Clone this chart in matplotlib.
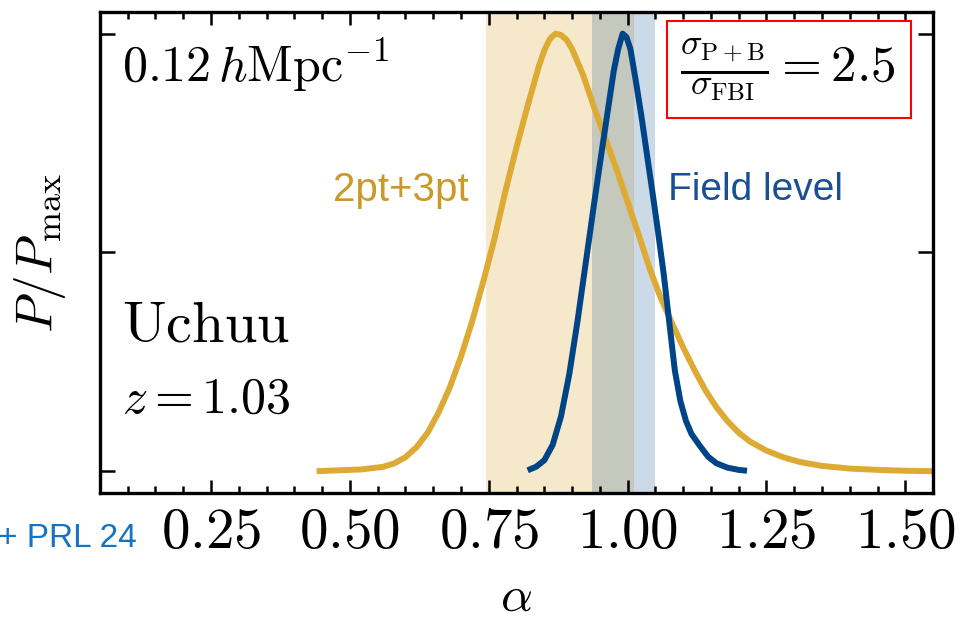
import matplotlib
matplotlib.use("Agg")
import matplotlib.pyplot as plt
from matplotlib.ticker import MultipleLocator, FuncFormatter
from matplotlib.patches import Rectangle

plt.rcParams['mathtext.fontset'] = 'cm'
plt.rcParams['font.family'] = ['DejaVu Serif']

# 2pt+3pt posterior
alpha_pb = [0.44, 0.48, 0.52, 0.56, 0.58, 0.60, 0.62, 0.64, 0.66, 0.68,
            0.70, 0.72, 0.74, 0.76, 0.78, 0.80, 0.82, 0.84, 0.85, 0.86,
            0.87, 0.88, 0.89, 0.90, 0.92, 0.94, 0.96, 0.98, 1.00, 1.02,
            1.04, 1.06, 1.08, 1.10, 1.12, 1.14, 1.16, 1.18, 1.20, 1.22,
            1.25, 1.28, 1.31, 1.35, 1.40, 1.45, 1.50, 1.55]
post_pb = [0.000, 0.002, 0.004, 0.010, 0.018, 0.032, 0.055, 0.088, 0.135, 0.192,
           0.262, 0.342, 0.433, 0.530, 0.640, 0.741, 0.835, 0.925, 0.962, 0.988,
           1.000, 0.997, 0.986, 0.965, 0.905, 0.830, 0.760, 0.690, 0.615, 0.540,
           0.462, 0.395, 0.338, 0.283, 0.232, 0.185, 0.146, 0.114, 0.088, 0.068,
           0.047, 0.032, 0.021, 0.012, 0.006, 0.003, 0.001, 0.000]

# field-level posterior
alpha_fl = [0.820, 0.835, 0.850, 0.865, 0.880, 0.895, 0.910, 0.925, 0.940, 0.955,
            0.965, 0.975, 0.983, 0.991, 0.998, 1.005, 1.015, 1.025, 1.035, 1.045,
            1.055, 1.065, 1.075, 1.085, 1.095, 1.105, 1.115, 1.130, 1.145, 1.160,
            1.180, 1.200, 1.215]
post_fl = [0.002, 0.010, 0.025, 0.060, 0.125, 0.222, 0.345, 0.480, 0.615, 0.745,
           0.830, 0.915, 0.965, 1.000, 0.992, 0.965, 0.890, 0.810, 0.722, 0.635,
           0.545, 0.450, 0.340, 0.230, 0.160, 0.115, 0.085, 0.058, 0.033, 0.018,
           0.008, 0.003, 0.001]

# 1-sigma bands
band_pb = (0.745, 1.012)
band_fl = (0.936, 1.050)

yellow = '#DDAA33'
blue = '#004488'

fig = plt.figure(figsize=(9.61, 6.21), dpi=100)
ax = fig.add_axes([0.104, 0.206, 0.867, 0.775])

ax.axvspan(*band_pb, color=yellow, alpha=0.25, lw=0, zorder=0)
ax.axvspan(*band_fl, color=blue, alpha=0.2, lw=0, zorder=0)
ax.plot(alpha_pb, post_pb, color=yellow, lw=4.3, solid_capstyle='butt',
        solid_joinstyle='round', zorder=2)
ax.plot(alpha_fl, post_fl, color=blue, lw=4.3, solid_capstyle='butt',
        solid_joinstyle='round', zorder=3)

ax.set_xlim(0.05, 1.55)
ax.set_ylim(-0.05, 1.05)

ax.xaxis.set_major_locator(MultipleLocator(0.25))
ax.xaxis.set_minor_locator(MultipleLocator(0.05))
ax.yaxis.set_major_locator(MultipleLocator(0.5))
ax.xaxis.set_major_formatter(FuncFormatter(lambda v, p: rf'${v:.2f}$'))
ax.yaxis.set_major_formatter(FuncFormatter(lambda v, p: ''))

ax.tick_params(axis='x', which='major', direction='in', top=True, length=9.5,
               width=1.8, labelsize=41, pad=8)
ax.tick_params(axis='x', which='minor', direction='in', top=True, length=5, width=1.8)
ax.tick_params(axis='y', which='major', direction='in', right=True, length=11, width=1.8)
for s in ax.spines.values():
    s.set_linewidth(2.4)

ax.set_xlabel(r'$\alpha$', fontsize=36)
ax.xaxis.set_label_coords(0.5, -0.165)
ax.set_ylabel(r'$P/P_{\rm max}$', fontsize=37)
ax.yaxis.set_label_coords(-0.038, 0.5)

ax.text(0.026, 0.854, r'$0.12\,h\mathrm{Mpc}^{-1}$', transform=ax.transAxes,
        fontsize=36, ha='left', va='baseline')
ax.text(0.026, 0.314, r'$\mathrm{Uchuu}$', transform=ax.transAxes,
        fontsize=42, ha='left', va='baseline')
ax.text(0.026, 0.166, r'$z = 1.03$', transform=ax.transAxes,
        fontsize=36, ha='left', va='baseline')

ax.text(0.442, 0.63, '2pt+3pt', transform=ax.transAxes, fontsize=29,
        family='Liberation Sans', color='#C99A28', ha='right', va='center')
ax.text(0.682, 0.63, 'Field level', transform=ax.transAxes, fontsize=28,
        family='Liberation Sans', color='#1A5090', ha='left', va='center')

ax.add_patch(Rectangle((0.681, 0.780), 0.292, 0.2, transform=ax.transAxes,
                       facecolor='white', edgecolor='red', lw=1.5, zorder=5))
ax.text(0.826, 0.879, r'$\frac{\sigma_{\rm P+B}}{\sigma_{\rm FBI}} = 2.5$',
        transform=ax.transAxes, fontsize=37, ha='center', va='center', zorder=6)

fig.text(137 / 961, 1 - 547 / 621, '+ PRL 24', fontsize=24, family='Liberation Sans',
         color='#1473C3', ha='right', va='baseline')

fig.savefig('out.png', dpi=100)
